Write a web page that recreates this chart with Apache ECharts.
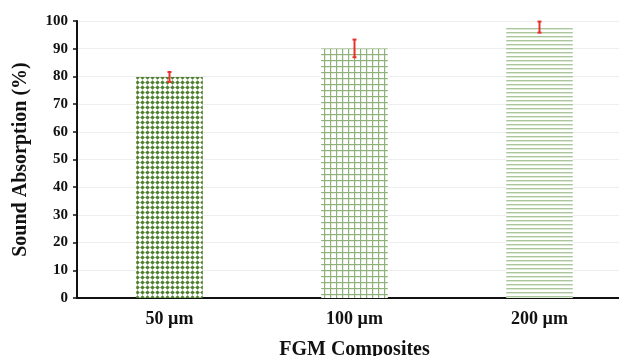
<!DOCTYPE html>
<html>
<head>
<meta charset="utf-8">
<script src="https://cdn.jsdelivr.net/npm/echarts@6/dist/echarts.min.js"></script>
<style>
  html, body { margin: 0; padding: 0; background: #fff; }
  #chart { width: 619px; height: 356px; }
</style>
</head>
<body>
<div id="chart"></div>
<script>
const categories = ['50 µm', '100 µm', '200 µm'];
const absorption = [79.8, 90.1, 97.8];
const errors = [1.8, 3.2, 2.0];
const yTicks = [0, 10, 20, 30, 40, 50, 60, 70, 80, 90, 100];

// pattern tiles for the three bars
const makeTile = (w, h, draw) => {
    let c = document.createElement('canvas');
    c.width = w; c.height = h;
    let ctx = c.getContext('2d');
    ctx.fillStyle = '#fff';
    ctx.fillRect(0, 0, w, h);
    draw(ctx);
    return c;
};
const dotTile = makeTile(5, 5, ctx => {
    ctx.fillStyle = '#4f7f2f';
    ctx.beginPath();
    ctx.moveTo(2.5, 0.2); ctx.lineTo(4.8, 2.5); ctx.lineTo(2.5, 4.8); ctx.lineTo(0.2, 2.5);
    ctx.closePath();
    ctx.fill();
});
const gridTile = makeTile(6, 6, ctx => {
    ctx.fillStyle = '#8fb17a';
    ctx.fillRect(0, 0, 6, 1.2);
    ctx.fillRect(0, 0, 1.2, 6);
});
const lineTile = makeTile(4, 4, ctx => {
    ctx.fillStyle = '#a9c79a';
    ctx.fillRect(0, 0, 4, 1.4);
});
const tiles = [dotTile, gridTile, lineTile];

const serif = '"Liberation Serif", "DejaVu Serif", serif';

let chart = echarts.init(document.getElementById('chart'));
chart.setOption({
    animation: false,
    grid: {left: 77, width: 555, top: 21, height: 277, outerBoundsMode: 'none'},
    xAxis: {
        type: 'category',
        data: categories,
        name: 'FGM Composites',
        nameLocation: 'middle',
        nameGap: 42,
        nameTextStyle: {fontFamily: serif, fontWeight: 'bold', fontSize: 20, color: '#111'},
        axisLine: {lineStyle: {color: '#111', width: 2}},
        axisTick: {show: false},
        axisLabel: {fontFamily: serif, fontWeight: 'bold', fontSize: 18, color: '#111', margin: 12}
    },
    yAxis: {
        type: 'value',
        min: 0,
        max: 100,
        interval: 10,
        name: 'Sound Absorption (%)',
        nameLocation: 'middle',
        nameGap: 46,
        nameTextStyle: {fontFamily: serif, fontWeight: 'bold', fontSize: 20, color: '#111'},
        axisLine: {show: true, lineStyle: {color: '#111', width: 2}},
        axisTick: {show: true, length: 4, lineStyle: {color: '#111', width: 1.5}},
        axisLabel: {
            fontFamily: serif, fontWeight: 'bold', fontSize: 15, color: '#111', margin: 9,
            formatter: v => yTicks.includes(v) ? String(v) : ''
        },
        splitLine: {lineStyle: {color: '#eeeeee', width: 1}}
    },
    series: [
        {
            type: 'bar',
            barWidth: '36%',
            data: absorption.map((v, i) => ({
                value: v,
                itemStyle: {color: {image: tiles[i], repeat: 'repeat'}}
            }))
        },
        {
            type: 'custom',
            z: 10,
            data: absorption.map((v, i) => [i, v - errors[i], v + errors[i]]),
            renderItem: (params, api) => {
                let lo = api.coord([api.value(0), api.value(1)]);
                let hi = api.coord([api.value(0), api.value(2)]);
                let cap = 2;
                let style = {stroke: '#e8322c', lineWidth: 2};
                return {
                    type: 'group',
                    children: [
                        {type: 'line', shape: {x1: hi[0], y1: hi[1], x2: lo[0], y2: lo[1]}, style},
                        {type: 'line', shape: {x1: hi[0] - cap, y1: hi[1], x2: hi[0] + cap, y2: hi[1]}, style},
                        {type: 'line', shape: {x1: lo[0] - cap, y1: lo[1], x2: lo[0] + cap, y2: lo[1]}, style}
                    ]
                };
            }
        }
    ]
});
</script>
</body>
</html>
